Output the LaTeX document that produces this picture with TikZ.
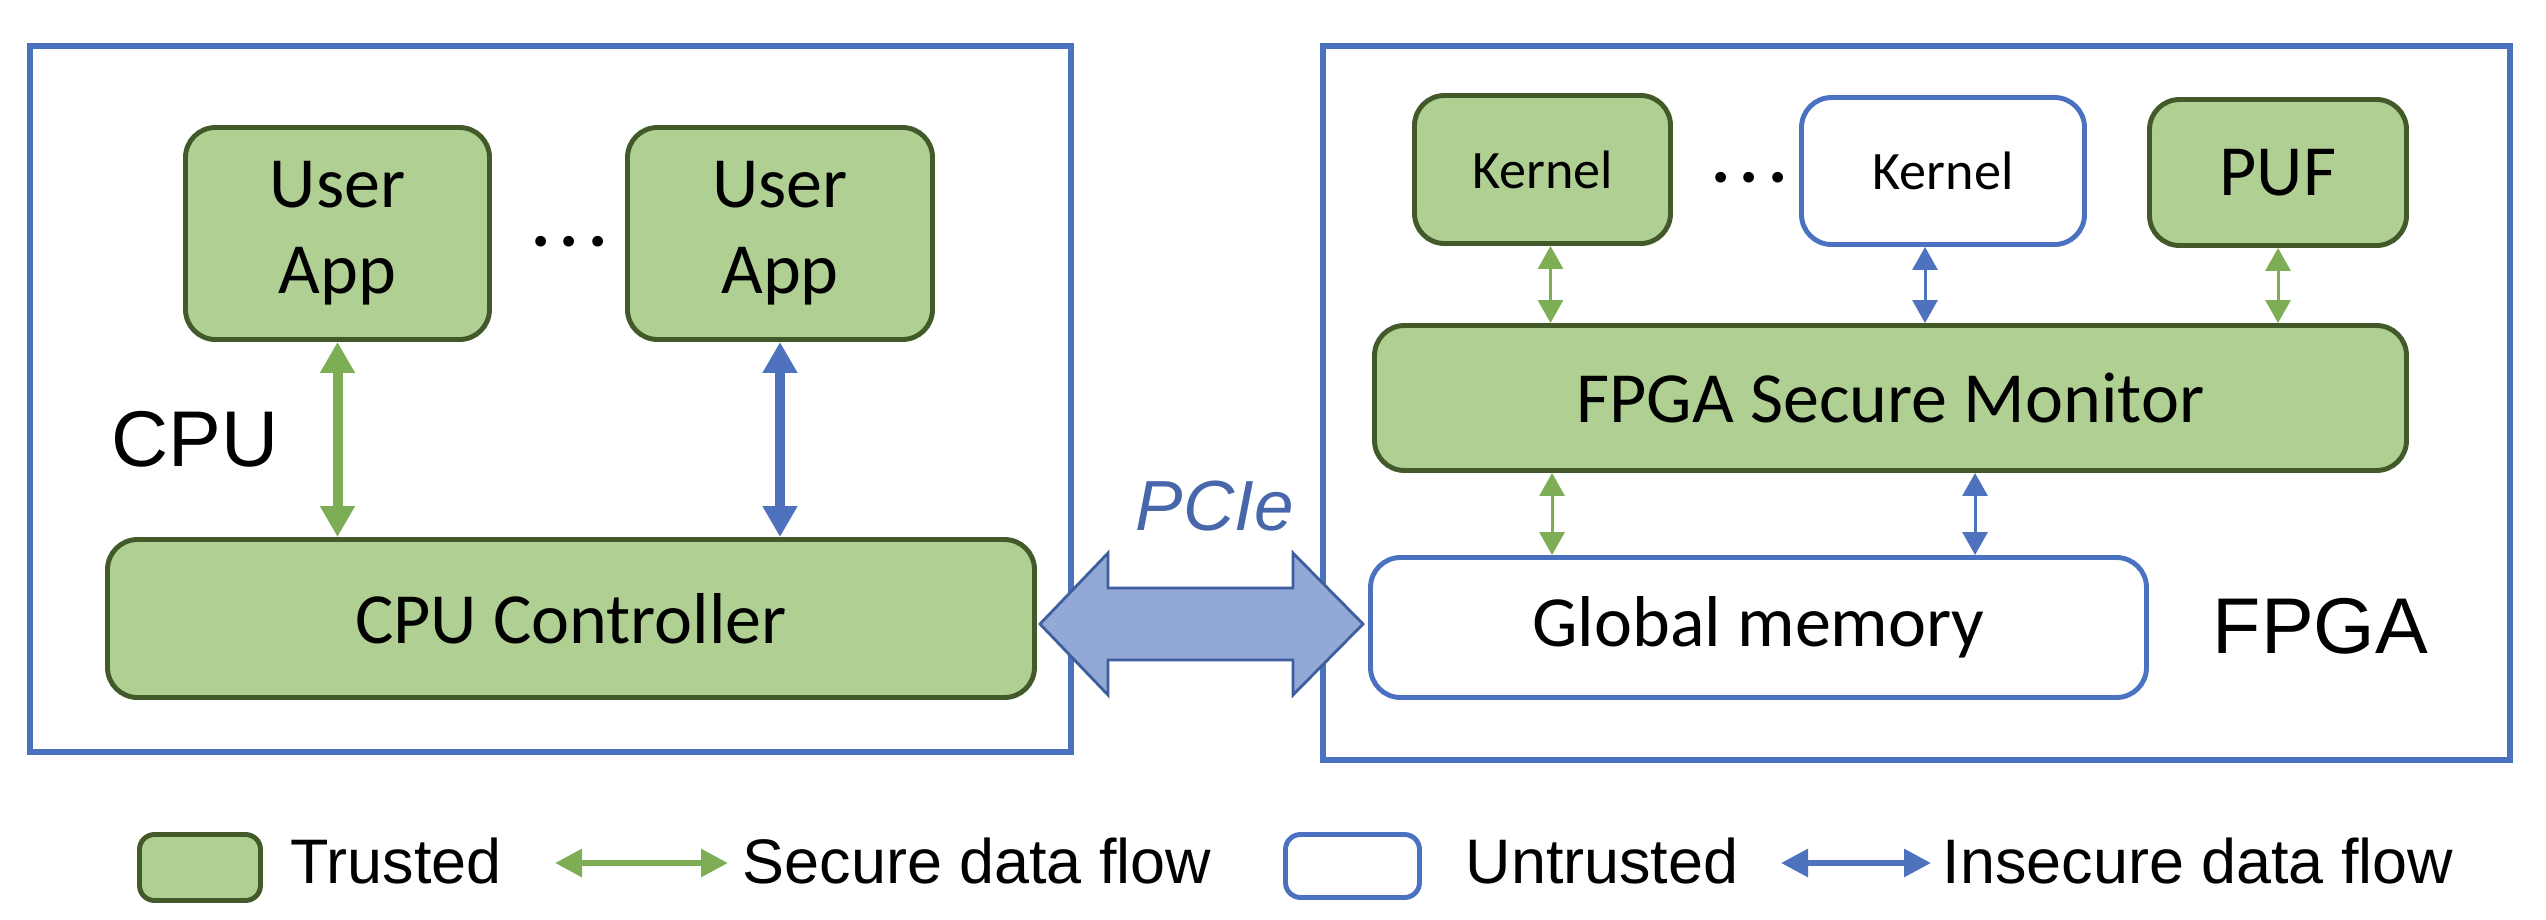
\documentclass[tikz,border=0pt]{standalone}
\usepackage{fontspec}
\setmainfont{Liberation Sans}
\newfontfamily\boxfont{Carlito}
\usetikzlibrary{arrows.meta,calc}

\definecolor{hostblue}{HTML}{4A72C0}
\definecolor{trustfill}{HTML}{B0CF93}
\definecolor{trustline}{HTML}{42592A}
\definecolor{flowgreen}{HTML}{7DAE55}
\definecolor{flowblue}{HTML}{4F72BF}
\definecolor{pciefill}{HTML}{92A9D8}
\definecolor{pcieline}{HTML}{3F5E9E}
\definecolor{pcietext}{HTML}{4767AA}

\tikzset{
  trusted/.style={draw=trustline, fill=trustfill, line width=1.4pt, rounded corners=3mm, inner sep=0pt, align=center},
  untrusted/.style={draw=hostblue, fill=white, line width=1.4pt, rounded corners=3mm, inner sep=0pt, align=center},
  hostbox/.style={draw=hostblue, line width=1.7pt},
  bigtxt/.style={font=\boxfont\fontsize{20.5}{24.5}\selectfont},
  smalltxt/.style={font=\boxfont\fontsize{15.4}{18}\selectfont},
  dotstxt/.style={font=\boxfont\bfseries\fontsize{20.5}{24.5}\selectfont},
  lbl/.style={inner sep=0pt, anchor=base west},
  legtxt/.style={font=\fontsize{17.9}{21}\selectfont},
  appflow/.style={line width=1mm, arrows={Triangle[length=3.1mm,width=3.3mm]-Triangle[length=3.1mm,width=3.3mm]}},
  fpgaflow/.style={line width=0.3mm, arrows={Triangle[length=2.3mm,width=2.5mm]-Triangle[length=2.3mm,width=2.5mm]}},
  keyflow/.style={line width=0.6mm, arrows={Triangle[length=2.7mm,width=2.7mm]-Triangle[length=2.7mm,width=2.7mm]}},
  secure/.style={draw=flowgreen},
  insecure/.style={draw=flowblue},
  pcie/.style={draw=pcieline, fill=pciefill, line width=0.8pt, line join=miter}
}

\begin{document}
\begin{tikzpicture}[x=0.1mm, y=-0.1mm]
  \useasboundingbox (0,0) rectangle (2546,920);

  % CPU side
  \draw[hostbox] (30,46) rectangle (1071,752);
  \node[trusted, bigtxt, minimum width=30.4mm, minimum height=21.2mm] (ua1) at (337.5,233.5) {User\\App};
  \node[trusted, bigtxt, minimum width=30.5mm, minimum height=21.2mm] (ua2) at (780,233.5) {User\\App};
  \node[lbl, dotstxt] (dotsa) at (531,246) {.\hspace{0.9mm}.\hspace{0.9mm}.};
  \node[trusted, bigtxt, minimum width=92.7mm, minimum height=15.8mm] (ctrl) at (571,618.5) {CPU Controller};
  \node[lbl, font=\fontsize{22.5}{27}\selectfont] (cpulbl) at (111,466) {CPU};
  \draw[appflow, secure] (ua1.south) -- (ua1.south |- ctrl.north);
  \draw[appflow, insecure] (ua2.south) -- (ua2.south |- ctrl.north);

  % FPGA side
  \draw[hostbox] (1323,46) rectangle (2510,760);
  \node[trusted, smalltxt, minimum width=25.6mm, minimum height=14.8mm] (k1) at (1542.5,169.5) {Kernel};
  \node[untrusted, smalltxt, minimum width=28.3mm, minimum height=14.7mm] (k2) at (1943,171) {Kernel};
  \node[trusted, bigtxt, minimum width=25.7mm, minimum height=14.6mm] (puf) at (2278,172.5) {PUF};
  \node[lbl, dotstxt] (dotsb) at (1711,182) {.\hspace{0.9mm}.\hspace{0.9mm}.};
  \node[trusted, bigtxt, minimum width=103.2mm, minimum height=14.5mm] (fsm) at (1890.5,398) {FPGA Secure Monitor};
  \node[untrusted, bigtxt, minimum width=77.6mm, minimum height=14mm] (gm) at (1758.5,627.5) {Global memory};
  \node[lbl, font=\fontsize{22.5}{27}\selectfont] (fpgalbl) at (2212,653) {FPGA};

  % Kernels, PUF and monitor
  \coordinate (k1b) at ($(k1.south)+(8,0)$);
  \coordinate (k2b) at ($(k2.south)+(-18,0)$);
  \draw[fpgaflow, secure] (k1b) -- (k1b |- fsm.north);
  \draw[fpgaflow, insecure] (k2b) -- (k2b |- fsm.north);
  \draw[fpgaflow, secure] (puf.south) -- (puf.south |- fsm.north);

  % Monitor and memory
  \coordinate (gma) at ($(gm.north west)+(184,0)$);
  \coordinate (gmb) at ($(gm.north west)+(607,0)$);
  \draw[fpgaflow, secure] (gma |- fsm.south) -- (gma);
  \draw[fpgaflow, insecure] (gmb |- fsm.south) -- (gmb);

  % PCIe
  \coordinate (pl) at (1040,624);
  \coordinate (pr) at (1363,624);
  \draw[pcie] (pl) -- ++(68,-71) -- ++(0,35) -- ++(185,0) -- ++(0,-35) -- (pr)
    -- ++(-70,71) -- ++(0,-35) -- ++(-185,0) -- ++(0,35) -- cycle;
  \node[lbl, text=pcietext, font=\itshape\fontsize{20.2}{24}\selectfont] (pcielbl) at (1135,530) {PCIe};

  % Legend
  \node[trusted, rounded corners=1.5mm, minimum width=12.1mm, minimum height=6.6mm] (keytrust) at (200,867.5) {};
  \node[lbl, legtxt] (keytrusttxt) at (290,883) {Trusted};
  \coordinate (ks1) at (555,863);
  \coordinate (ks2) at (728,863);
  \draw[keyflow, secure] (ks1) -- (ks2);
  \node[lbl, legtxt] (keysectxt) at (742,883) {Secure data flow};
  \node[untrusted, rounded corners=1.5mm, minimum width=13.4mm, minimum height=6.3mm] (keyuntrust) at (1352.5,866) {};
  \node[lbl, legtxt] (keyuntrusttxt) at (1465,883) {Untrusted};
  \coordinate (ki1) at (1781,863);
  \coordinate (ki2) at (1931,863);
  \draw[keyflow, insecure] (ki1) -- (ki2);
  \node[lbl, legtxt] (keyinsectxt) at (1942,883) {Insecure data flow};
\end{tikzpicture}
\end{document}
